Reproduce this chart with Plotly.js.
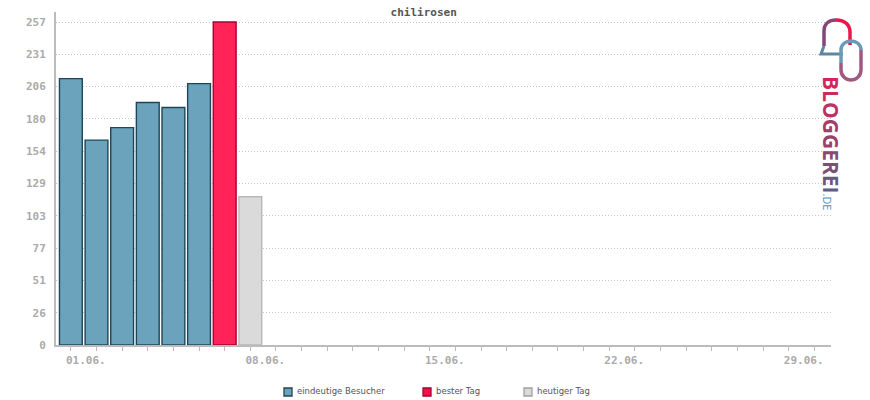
<!DOCTYPE html>
<html>
<head>
<meta charset="utf-8">
<script src="https://cdn.plot.ly/plotly-3.0.1.min.js"></script>
<style>html,body{margin:0;padding:0;background:#fff;}#chart{width:870px;height:400px;}</style>
</head>
<body>
<div id="chart"></div>
<script>
// ---- data ----
const visitorDays = [1, 2, 3, 4, 5, 6];
const visitorValues = [212, 163, 173, 193, 189, 208];
const bestDayX = [7];
const bestDayValue = [257];
const todayX = [8];
const todayValue = [118];
const xTickVals = [1,2,3,4,5,6,7,8,9,10,11,12,13,14,15,16,17,18,19,20,21,22,23,24,25,26,27,28,29,30];
const xTickText = ['01.06.','','','','','','','08.06.','','','','','','','15.06.','','','','','','','22.06.','','','','','','','29.06.',''];
const yTickVals = [0, 25.7, 51.4, 77.1, 102.8, 128.5, 154.2, 179.9, 205.6, 231.3, 257];
const yTickText = ['0','26','51','77','103','129','154','180','206','231','257'];
const seriesNames = ['eindeutige Besucher', 'bester Tag', 'heutiger Tag'];
const seriesFill = ['#6aa3bb', '#ff2358', '#dadada'];
const seriesLine = ['#1d4658', '#a8002e', '#b8b8b8'];

// ---- layout helpers (pixel -> paper, for decoration) ----
const L = 56, R = 831, T = 12, B = 345;
const PX = v => (v - L) / (R - L);
const PY = v => (B - v) / (B - T);
function pp(s) {
  const tok = s.trim().split(/\s+/);
  let out = [], isX = true;
  for (const t of tok) {
    if (/^[A-Za-z]$/.test(t)) { out.push(t); isX = true; }
    else {
      const v = parseFloat(t);
      out.push(isX ? PX(v).toFixed(5) : PY(v).toFixed(5));
      isX = !isX;
    }
  }
  return out.join(' ');
}
function logoPath(d, color, w) {
  return { type: 'path', xref: 'paper', yref: 'paper', path: pp(d),
           line: { color: color, width: w }, layer: 'above' };
}

const fontMono = 'DejaVu Sans Mono, monospace';

const traces = seriesNames.map((n, i) => ({
  type: 'bar',
  x: [visitorDays, bestDayX, todayX][i],
  y: [visitorValues, bestDayValue, todayValue][i],
  name: n,
  marker: { color: seriesFill[i], line: { color: seriesLine[i], width: 1.4 } },
  hoverinfo: 'x+y'
}));

// custom legend (boxes + labels) placed like the reference
const legendBoxX = [284, 423, 524];
const legendBoxFill = ['#6aa3bb', '#f5104a', '#dadada'];
const legendBoxLine = ['#1d4658', '#a8002e', '#a0a0a0'];
const legendShapes = legendBoxX.map((x, i) => ({
  type: 'rect', xref: 'paper', yref: 'paper',
  x0: PX(x), x1: PX(x + 8), y0: PY(396), y1: PY(388),
  fillcolor: legendBoxFill[i], line: { color: legendBoxLine[i], width: 1.3 }
}));
const legendAnn = legendBoxX.map((x, i) => ({
  xref: 'paper', yref: 'paper', x: PX(x + 11), y: PY(391.5),
  xanchor: 'left', yanchor: 'middle', showarrow: false, text: seriesNames[i],
  font: { family: 'DejaVu Sans, sans-serif', size: 8.5, color: '#555555' }
}));

const letters = ['B','L','O','G','G','E','R','E','I'];
const letterColors = ['#d4265a','#c82c5d','#b93462','#a93b67','#9a426c','#8a4972','#7a5078','#6c577e','#5e5e85'];
const logoText = letters.map((c, i) => `<span style="color:${letterColors[i]}">${c}</span>`).join('') +
  '<span style="color:#4a8fba;font-size:11px;font-weight:normal">.DE</span>';

const layout = {
  width: 870, height: 400,
  margin: { l: L, r: 870 - R, t: T, b: 400 - B, pad: 0 },
  paper_bgcolor: '#ffffff', plot_bgcolor: '#ffffff',
  barmode: 'overlay', bargap: 0.11,
  showlegend: false,
  title: { text: '<b>chilirosen</b>', x: 0.487, xref: 'container', y: 0.97, yref: 'container',
           yanchor: 'middle', xanchor: 'center', automargin: false,
           font: { family: fontMono, size: 11, color: '#555555' } },
  xaxis: {
    range: [0.42, 30.65], showgrid: false, zeroline: false, automargin: false,
    showline: true, linecolor: '#bbbbbb', linewidth: 2,
    tickmode: 'array', tickvals: xTickVals, ticktext: xTickText,
    ticks: 'outside', ticklen: 4, tickcolor: '#bbbbbb', tickwidth: 1,
    ticklabelshift: 15,
    tickfont: { family: fontMono, size: 11, color: '#aaaaaa', weight: 'bold' },
    fixedrange: true
  },
  yaxis: {
    range: [0, 265], zeroline: false, automargin: false,
    showline: true, linecolor: '#bbbbbb', linewidth: 2,
    showgrid: true, gridcolor: '#c4c4c4', griddash: '1px,2px', gridwidth: 1,
    tickmode: 'array', tickvals: yTickVals, ticktext: yTickText,
    ticks: '', ticklabelstandoff: 6,
    tickfont: { family: fontMono, size: 11, color: '#aaaaaa', weight: 'bold' },
    fixedrange: true
  },
  shapes: legendShapes.concat([
    // left loop of logo
    logoPath('M 824 46 L 824 31 C 824 24 829 20 836 20', '#86467a', 3.5),
    logoPath('M 836 20 C 845 20 850 25 850 32 L 850 45', '#e8184a', 3.5),
    logoPath('M 824 46 L 821 54 L 843 54', '#5f86a0', 3),
    // right loop of logo
    logoPath('M 841 63 L 841 50 C 841 44 846 41 851 41 C 856 41 861 44 861 50', '#6a9ab8', 3.5),
    logoPath('M 861 50 L 861 70 C 861 76 856 80 851 80 C 846 80 841 76 841 70 L 841 63', '#a05a80', 3.5)
  ]),
  annotations: legendAnn.concat([
    { xref: 'paper', yref: 'paper', x: PX(831), y: PY(143),
      text: logoText, textangle: 90, showarrow: false, xanchor: 'center', yanchor: 'middle',
      font: { family: 'Open Sans, sans-serif', size: 21, color: '#a03a66', weight: 'bold' } }
  ])
};

Plotly.newPlot('chart', traces, layout, { displayModeBar: false });
</script>
</body>
</html>
